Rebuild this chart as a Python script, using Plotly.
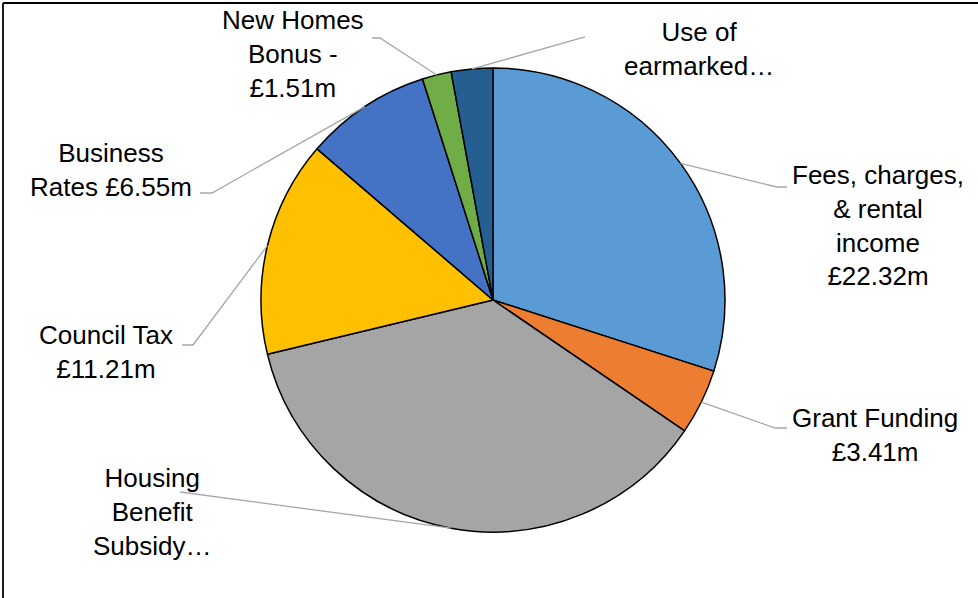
import math
import plotly.graph_objects as go

# ---- data ----
categories = ["Fees, charges, & rental income", "Grant Funding", "Housing Benefit Subsidy",
              "Council Tax", "Business Rates", "New Homes Bonus", "Use of earmarked reserves"]
values = [22.32, 3.41, 27.35, 11.21, 6.55, 1.51, 2.15]
label_texts = ["Fees, charges,<br>& rental<br>income<br>£22.32m",
               "Grant Funding<br>£3.41m",
               "Housing<br>Benefit<br>Subsidy…",
               "Council Tax<br>£11.21m",
               "Business<br>Rates £6.55m",
               "New Homes<br>Bonus -<br>£1.51m",
               "Use of<br>earmarked…"]
colors = ["#5B9BD5", "#ED7D31", "#A5A5A5", "#FFC000", "#4472C4", "#70AD47", "#255E91"]

# ---- layout (pixels) ----
W, H = 978, 598
CX, CY, R = 493, 300, 232
label_pos = [(878, 225), (875, 435), (152, 512), (106, 352), (111, 170), (293, 54), (699, 49)]
elbows = [[(777, 187), (787, 187)],
          [(775, 428), (787, 428)],
          [(180, 492)],
          [(193, 345), (182, 345)],
          [(212, 193), (200, 193)],
          [(380, 38), (372, 38)],
          [(585, 37)]]

def px(x):
    return x / W

def py(y):
    return 1 - y / H

fig = go.Figure(go.Pie(
    labels=categories, values=values, sort=False, direction="clockwise", rotation=0,
    marker=dict(colors=colors, line=dict(color="black", width=1.5)),
    textinfo="none", hoverinfo="label+value", showlegend=False,
    domain=dict(x=[px(CX - R), px(CX + R)], y=[py(CY + R), py(CY - R)]),
))

total = sum(values)
shapes = []
annotations = []
cum = 0.0
for i, v in enumerate(values):
    mid = (cum + v / 2) / total * 2 * math.pi
    cum += v
    ax = CX + R * math.sin(mid)
    ay = CY - R * math.cos(mid)
    pts = [(ax, ay)] + elbows[i]
    path = "M " + " L ".join(f"{px(x):.5f},{py(y):.5f}" for x, y in pts)
    shapes.append(dict(type="path", xref="paper", yref="paper", path=path,
                       line=dict(color="#A6A6A6", width=1.3)))
    lx, ly = label_pos[i]
    annotations.append(dict(text=label_texts[i], x=px(lx), y=py(ly), xref="paper", yref="paper",
                            xanchor="center", yanchor="middle", showarrow=False,
                            font=dict(family="Liberation Sans, Arial", size=26, color="black")))

# frame lines
shapes.append(dict(type="line", xref="paper", yref="paper", x0=px(3), x1=px(978), y0=py(3), y1=py(3),
                   line=dict(color="black", width=1.8)))
shapes.append(dict(type="line", xref="paper", yref="paper", x0=px(3), x1=px(3), y0=py(3), y1=py(598),
                   line=dict(color="black", width=1.8)))

fig.update_layout(width=W, height=H, margin=dict(l=0, r=0, t=0, b=0),
                  paper_bgcolor="white", plot_bgcolor="white",
                  shapes=shapes, annotations=annotations)
fig.write_html("out.html")
